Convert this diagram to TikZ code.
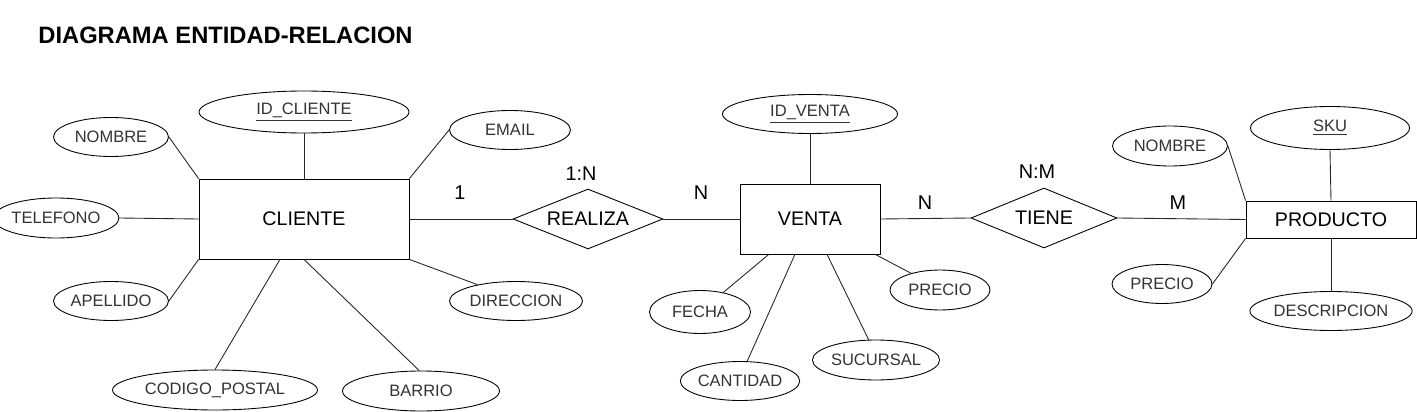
\documentclass[tikz,border=0pt]{standalone}
\usepackage{fontspec}
\setmainfont{Liberation Sans}
\usetikzlibrary{shapes.geometric,calc}

\begin{document}
\begin{tikzpicture}[
    x=0.02cm, y=-0.02cm,
    line width=0.5pt,
    entity/.style={rectangle, draw, inner sep=0pt, font=\fontsize{11.2}{13}\selectfont},
    rel/.style={diamond, draw, aspect=2.5, inner sep=0pt, font=\fontsize{11.2}{13}\selectfont},
    attr/.style={ellipse, draw, inner sep=0pt, text=black!80, font=\fontsize{9.4}{11}\selectfont},
    card/.style={inner sep=0pt, font=\fontsize{11.3}{13}\selectfont},
    link/.style={draw=black!85}
]
\useasboundingbox (0,0) rectangle (1417,412);

% Title
\node[anchor=west, inner sep=0pt, font=\fontsize{13.5}{16}\selectfont\bfseries] (title) at (38,35) {DIAGRAMA ENTIDAD-RELACION};

% Entities and relations
\node[entity, minimum width=4.2cm, minimum height=1.6cm] (cliente) at (304,219) {CLIENTE};
\node[rel, minimum width=3cm, minimum height=1.2cm] (realiza) at (588,219) {REALIZA};
\node[entity, minimum width=2.8cm, minimum height=1.4cm] (venta) at (810,219) {VENTA};
\node[rel, minimum width=2.92cm, minimum height=1.2cm] (tiene) at (1044,218) {TIENE};
\node[entity, minimum width=3.4cm, minimum height=0.74cm] (producto) at (1331,219.5) {PRODUCTO};

% Attributes of CLIENTE
\node[attr, minimum width=4.2cm, minimum height=0.84cm] (idcliente) at (304,112) {\underline{ID\_CLIENTE}};
\node[attr, minimum width=2.3cm, minimum height=0.78cm] (nombrecli) at (111,137) {NOMBRE};
\node[attr, minimum width=2.26cm, minimum height=0.8cm] (telefono) at (56,218) {TELEFONO};
\node[attr, minimum width=2.3cm, minimum height=0.78cm] (apellido) at (111,301) {APELLIDO};
\node[attr, minimum width=4.1cm, minimum height=0.8cm] (codpostal) at (215,390) {CODIGO\_POSTAL};
\node[attr, minimum width=3.14cm, minimum height=0.8cm] (barrio) at (421,391) {BARRIO};
\node[attr, minimum width=2.42cm, minimum height=0.78cm] (email) at (510,130) {EMAIL};
\node[attr, minimum width=2.66cm, minimum height=0.78cm] (direccion) at (516,301) {DIRECCION};

% Attributes of VENTA
\node[attr, minimum width=3.5cm, minimum height=0.78cm] (idventa) at (810,114) {\underline{ID\_VENTA}};
\node[attr, minimum width=2.02cm, minimum height=0.86cm] (fecha) at (700,312) {FECHA};
\node[attr, minimum width=2cm, minimum height=0.78cm] (cantidad) at (740,381) {CANTIDAD};
\node[attr, minimum width=2.26cm, minimum height=0.8cm] (sucursal) at (876,360) {SUCURSAL};
\node[attr, minimum width=2cm, minimum height=0.8cm] (precioven) at (940,290) {PRECIO};

% Attributes of PRODUCTO
\node[attr, minimum width=3.18cm, minimum height=0.86cm] (sku) at (1330,128) {\underline{SKU}};
\node[attr, minimum width=2.3cm, minimum height=0.8cm] (nombreprod) at (1170,146) {NOMBRE};
\node[attr, minimum width=2cm, minimum height=0.78cm] (precioprod) at (1162,284) {PRECIO};
\node[attr, minimum width=3.16cm, minimum height=0.78cm] (descripcion) at (1331,311) {DESCRIPCION};

% Cardinalities
\node[card] (c1) at (460,193) {1};
\node[card] (c1n) at (581,174) {1:N};
\node[card] (cn1) at (701,193) {N};
\node[card] (cn2) at (925,203) {N};
\node[card] (cnm) at (1037,172) {N:M};
\node[card] (cm) at (1178,203) {M};

% Relationship lines
\draw[link] (cliente.east) -- (realiza.west);
\draw[link] (realiza.east) -- (venta.west);
\draw[link] (venta.east) -- (tiene.west);
\draw[link] (tiene.east) -- (producto.west);

% CLIENTE attribute lines
\draw[link] (idcliente.south) -- (cliente.north);
\draw[link] (nombrecli.east) -- (cliente.north west);
\draw[link] (telefono.east) -- (cliente.west);
\draw[link] (apellido.east) -- (cliente.south west);
\draw[link] (codpostal.north) -- ($(cliente.south west)!0.386!(cliente.south east)$);
\draw[link] (barrio.95) -- (cliente.south);
\draw[link] (email.west) -- (cliente.north east);
\draw[link] (direccion.157) -- (cliente.south east);

% VENTA attribute lines
\draw[link] (idventa.south) -- (venta.north);
\draw[link] (fecha.40) -- ($(venta.south west)!0.207!(venta.south east)$);
\draw[link] (cantidad.70) -- ($(venta.south west)!0.393!(venta.south east)$);
\draw[link] (sucursal.110) -- ($(venta.south west)!0.621!(venta.south east)$);
\draw[link] (precioven.150) -- ($(venta.south west)!0.964!(venta.south east)$);

% PRODUCTO attribute lines
\draw[link] (sku.south) -- (producto.north);
\draw[link] (nombreprod.east) -- (producto.north west);
\draw[link] (precioprod.east) -- (producto.south west);
\draw[link] (descripcion.north) -- (producto.south);
\end{tikzpicture}
\end{document}
